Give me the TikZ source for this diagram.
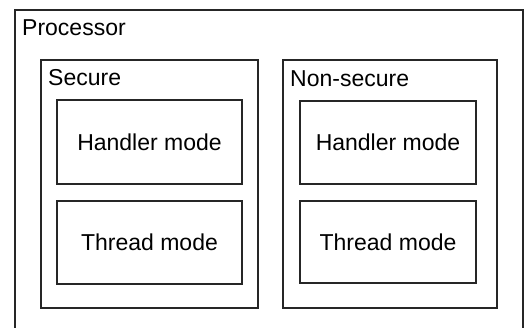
\documentclass[tikz,border=0pt]{standalone}
\usepackage{fontspec}
\setmainfont{Liberation Sans}
\usetikzlibrary{positioning}
\tikzset{
  box/.style={draw=black!85, line width=1.1pt, rectangle, inner sep=0pt, font=\fontsize{23}{28}\selectfont},
  lbl/.style={anchor=base west, inner sep=0pt, font=\fontsize{23}{28}\selectfont},
}
\begin{document}
\begin{tikzpicture}[x=1pt, y=-1pt]
\useasboundingbox (0,0) rectangle (532,328);
\clip (0,0) rectangle (532,328);
\node[box, minimum width=508pt, minimum height=330pt] (proc) at (269,175){};
\node[lbl] (proclbl) at (22,36){Processor};
\node[box, minimum width=217pt, minimum height=248pt] (sec) at (149.5,184){};
\node[lbl] (seclbl) at (48,86){Secure};
\node[box, minimum width=185pt, minimum height=84pt] (sechandler) at (149.5,142){Handler mode};
\node[box, minimum width=185pt, minimum height=83pt] (secthread) at (149.5,242.5){Thread mode};
\node[box, minimum width=214pt, minimum height=248pt] (nsec) at (390,184){};
\node[lbl] (nseclbl) at (290,87){Non-secure};
\node[box, minimum width=176pt, minimum height=83pt] (nsechandler) at (388,142.5){Handler mode};
\node[box, minimum width=176pt, minimum height=82pt] (nsecthread) at (388,242){Thread mode};
\end{tikzpicture}
\end{document}
